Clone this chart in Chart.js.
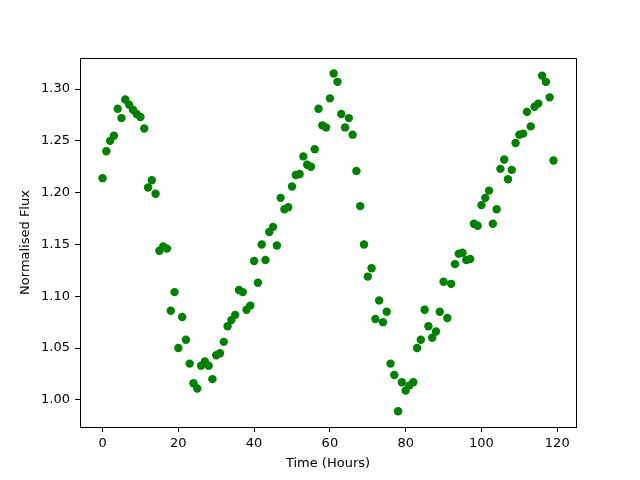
<!DOCTYPE html>
<html>
<head>
<meta charset="utf-8">
<script src="https://cdn.jsdelivr.net/npm/chart.js@4/dist/chart.umd.min.js"></script>
<style>
  html, body { margin: 0; padding: 0; background: #ffffff; }
  #wrap { width: 640px; height: 480px; }
</style>
</head>
<body>
<div id="wrap"><canvas id="c" width="640" height="480"></canvas></div>
<script>
const hours = [];
for (let i = 0; i < 120; i++) hours.push(i);

const flux = [
  1.214, 1.240, 1.250, 1.255, 1.281, 1.272, 1.290, 1.285, 1.280, 1.276,
  1.273, 1.262, 1.205, 1.212, 1.199, 1.144, 1.148, 1.146, 1.086, 1.104,
  1.050, 1.080, 1.058, 1.035, 1.016, 1.011, 1.033, 1.037, 1.033, 1.020,
  1.043, 1.045, 1.056, 1.071, 1.077, 1.082, 1.106, 1.104, 1.087, 1.091,
  1.134, 1.113, 1.150, 1.135, 1.162, 1.167, 1.149, 1.195, 1.184, 1.186,
  1.206, 1.217, 1.218, 1.235, 1.227, 1.225, 1.242, 1.281, 1.265, 1.263,
  1.291, 1.315, 1.307, 1.276, 1.263, 1.272, 1.256, 1.221, 1.187, 1.150,
  1.119, 1.127, 1.078, 1.096, 1.075, 1.085, 1.035, 1.024, 0.989, 1.017,
  1.009, 1.014, 1.017, 1.050, 1.058, 1.087, 1.071, 1.060, 1.066, 1.085,
  1.114, 1.079, 1.112, 1.131, 1.141, 1.142, 1.135, 1.136, 1.170, 1.168,
  1.188, 1.195, 1.202, 1.170, 1.184, 1.223, 1.232, 1.213, 1.222, 1.248,
  1.256, 1.257, 1.278, 1.264, 1.283, 1.286, 1.313, 1.307, 1.292, 1.231
];

const xTicks = [0, 20, 40, 60, 80, 100, 120];
const yTicks = [1.00, 1.05, 1.10, 1.15, 1.20, 1.25, 1.30];

const xLabel = 'Time (Hours)';
const yLabel = 'Normalised Flux';

const points = hours.map((h, i) => ({ x: h, y: flux[i] }));

const FONT = { family: 'DejaVu Sans', size: 13 };

new Chart(document.getElementById('c'), {
  type: 'scatter',
  data: {
    datasets: [{
      data: points,
      backgroundColor: '#008000',
      borderColor: '#008000',
      borderWidth: 0,
      pointRadius: 4.2,
      pointHoverRadius: 4.2
    }]
  },
  options: {
    responsive: false,
    animation: false,
    layout: { padding: { top: 58, right: 64, bottom: 0, left: 0 } },
    plugins: { legend: { display: false }, tooltip: { enabled: false } },
    scales: {
      x: {
        type: 'linear',
        min: -5.95,
        max: 124.95,
        afterBuildTicks: (s) => { s.ticks = xTicks.map(v => ({ value: v })); },
        afterFit: (s) => { s.height = 53; },
        ticks: { color: '#000', font: FONT, padding: 4, maxRotation: 0,
          callback: (v) => String(v) },
        grid: { display: true, drawOnChartArea: false, drawTicks: true, tickLength: 5,
          color: '#000', tickColor: '#000', tickWidth: 1 },
        border: { display: true, color: '#000', width: 1 },
        title: { display: true, text: xLabel, color: '#000', font: FONT,
          padding: { top: 0, bottom: 9 } }
      },
      y: {
        type: 'linear',
        min: 0.9738,
        max: 1.330,
        afterBuildTicks: (s) => { s.ticks = yTicks.map(v => ({ value: v })); },
        afterFit: (s) => { s.width = 80; },
        ticks: { color: '#000', font: FONT, padding: 5,
          callback: (v) => Number(v).toFixed(2) },
        grid: { display: true, drawOnChartArea: false, drawTicks: true, tickLength: 5,
          color: '#000', tickColor: '#000', tickWidth: 1 },
        border: { display: true, color: '#000', width: 1 },
        title: { display: true, text: yLabel, color: '#000', font: FONT,
          padding: { top: 18, bottom: 0 } }
      }
    }
  },
  plugins: [{
    id: 'frame',
    afterDraw(chart) {
      const { ctx, chartArea: a } = chart;
      ctx.save();
      ctx.strokeStyle = '#000';
      ctx.lineWidth = 1;
      ctx.beginPath();
      ctx.moveTo(a.left, a.top + 0.5);
      ctx.lineTo(a.right + 0.5, a.top + 0.5);
      ctx.lineTo(a.right + 0.5, a.bottom);
      ctx.stroke();
      ctx.restore();
    }
  }]
});
</script>
</body>
</html>
